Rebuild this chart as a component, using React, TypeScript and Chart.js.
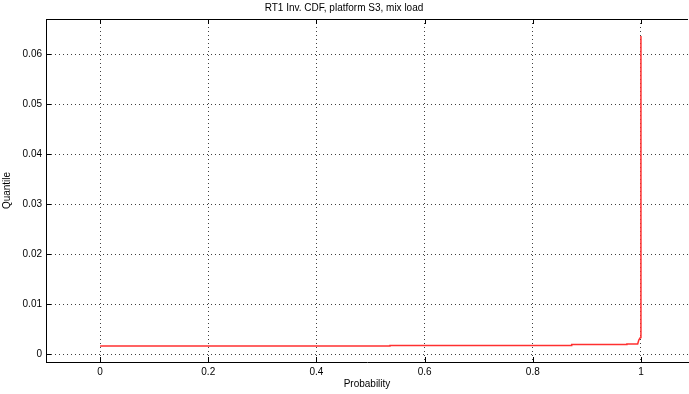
import React, { useEffect, useRef } from "react";
import { Chart, registerables } from "chart.js";

Chart.register(...registerables);

const chartTitle = "RT1 Inv. CDF, platform S3, mix load";
const xTitle = "Probability";
const yTitle = "Quantile";

const probability = [0, 0.536, 0.536, 0.872, 0.872, 0.974, 0.974, 0.994, 0.996, 0.999, 1.0, 1.0];
const quantile = [0.0016, 0.0016, 0.0017, 0.0017, 0.0019, 0.0019, 0.002, 0.002, 0.0028, 0.0033, 0.004, 0.0636];

const xTicks = [0, 0.2, 0.4, 0.6, 0.8, 1];
const yTicks = [0, 0.01, 0.02, 0.03, 0.04, 0.05, 0.06];

const FONT = "'Liberation Sans', Arial, sans-serif";

const frame = {
  id: "frame",
  afterDraw(chart: any) {
    const { ctx, chartArea } = chart;
    const xs = chart.scales.x;
    const ys = chart.scales.y;
    ctx.save();
    ctx.strokeStyle = "#000";
    ctx.lineWidth = 1;
    ctx.beginPath();
    ctx.moveTo(chartArea.left, Math.round(chartArea.top) + 0.5);
    ctx.lineTo(chartArea.right, Math.round(chartArea.top) + 0.5);
    for (const t of xTicks) {
      const px = Math.round(xs.getPixelForValue(t)) + 0.5;
      ctx.moveTo(px, chartArea.bottom);
      ctx.lineTo(px, chartArea.bottom - 5);
      ctx.moveTo(px, chartArea.top);
      ctx.lineTo(px, chartArea.top + 5);
    }
    for (const t of yTicks) {
      const py = Math.round(ys.getPixelForValue(t)) + 0.5;
      ctx.moveTo(chartArea.left, py);
      ctx.lineTo(chartArea.left + 5, py);
    }
    ctx.stroke();
    ctx.restore();
  },
};

export default function App() {
  const ref = useRef<HTMLCanvasElement | null>(null);
  useEffect(() => {
    document.body.style.margin = "0";
    const canvas = ref.current!;
    const chart = new Chart(canvas, {
      type: "scatter",
      data: {
        datasets: [
          {
            data: probability.map((p, i) => ({ x: p, y: quantile[i] })),
            showLine: true,
            borderColor: "#ff3030",
            borderWidth: 1.5,
            pointRadius: 0,
            fill: false,
            tension: 0,
          },
        ],
      },
      options: {
        responsive: false,
        animation: false,
        layout: { padding: { left: 0, right: 1, top: 0, bottom: 0 } },
        plugins: {
          legend: { display: false },
          tooltip: { enabled: false },
          title: {
            display: true,
            text: chartTitle,
            color: "#000",
            font: { family: FONT, size: 10, weight: "normal" },
            padding: { top: 2, bottom: 5 },
          },
        },
        scales: {
          x: {
            type: "linear",
            min: -0.1,
            max: 1.087,
            afterBuildTicks: (s: any) => {
              s.ticks = xTicks.map((v) => ({ value: v }));
            },
            afterFit: (s: any) => {
              s.height = 32;
            },
            ticks: {
              color: "#000",
              font: { family: FONT, size: 10 },
              padding: 4,
              maxRotation: 0,
              callback: (v: any) => String(+Number(v).toFixed(2)),
            },
            grid: { color: "rgba(0,0,0,0.75)", drawTicks: false, lineWidth: 1 },
            border: { display: true, color: "#000", width: 1, dash: [1, 3] },
            title: {
              display: true,
              text: xTitle,
              color: "#000",
              font: { family: FONT, size: 10 },
              padding: { top: 0, bottom: 4 },
            },
          },
          y: {
            type: "linear",
            min: -0.0016,
            max: 0.067,
            afterBuildTicks: (s: any) => {
              s.ticks = yTicks.map((v) => ({ value: v }));
            },
            afterFit: (s: any) => {
              s.width = 46;
            },
            ticks: {
              color: "#000",
              font: { family: FONT, size: 10 },
              padding: 4,
              callback: (v: any) => String(+Number(v).toFixed(3)),
            },
            grid: { color: "rgba(0,0,0,0.75)", drawTicks: false, lineWidth: 1 },
            border: { display: true, color: "#000", width: 1, dash: [1, 3] },
            title: {
              display: true,
              text: yTitle,
              color: "#000",
              font: { family: FONT, size: 10 },
              padding: { top: 1, bottom: 0 },
            },
          },
        },
      },
      plugins: [frame],
    });
    return () => chart.destroy();
  }, []);
  return (
    <div style={{ width: 689, height: 394, background: "#fff" }}>
      <canvas ref={ref} width={689} height={394} />
    </div>
  );
}
